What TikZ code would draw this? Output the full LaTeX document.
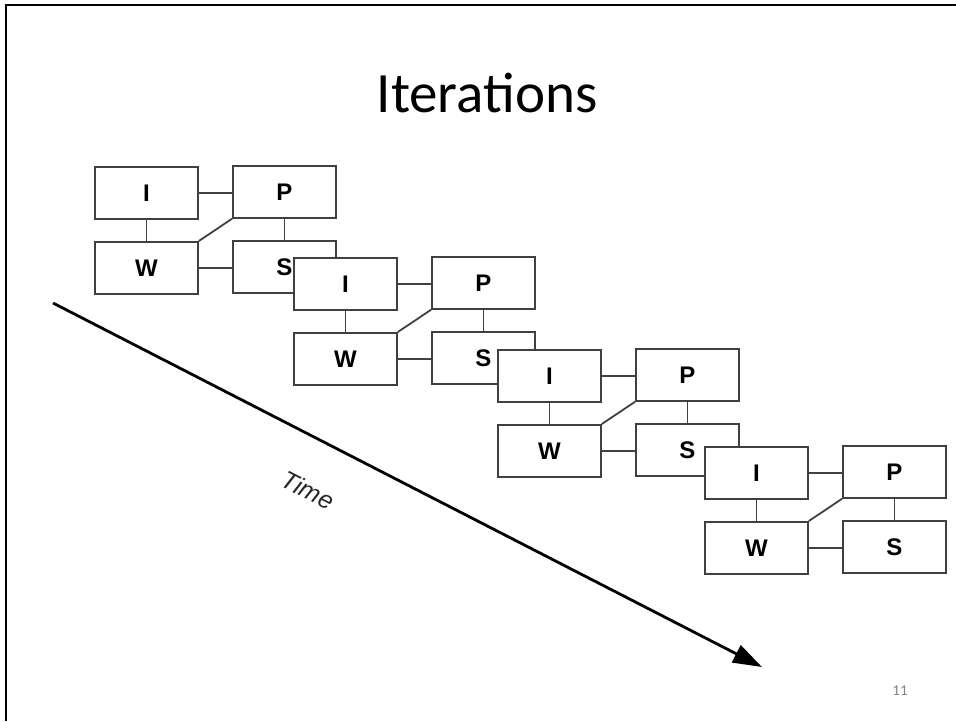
\documentclass[tikz,border=0pt]{standalone}
\usepackage{fontspec}
\setmainfont{Carlito}
\newfontfamily\arialfont{Liberation Sans}
\usetikzlibrary{arrows.meta,calc}
\begin{document}
\begin{tikzpicture}[x=1pt,y=-1pt,
  phasebox/.style={draw=black!75,line width=1.8pt,fill=white,minimum width=103pt,
    minimum height=52pt,inner sep=0pt,anchor=north west,
    font=\arialfont\bfseries\fontsize{24}{24}\selectfont},
  link/.style={draw=black!75,line width=1.8pt},
  frame/.style={line width=2.8pt,black}]
\useasboundingbox (0,0) rectangle (956,721);
% slide frame
\coordinate (fl) at (6,721);
\coordinate (fc) at (6,5);
\coordinate (fr) at (956,5);
\draw[frame] (fl) -- (fc) -- (fr);
% title
\node[font=\fontsize{57}{57}\selectfont,anchor=base] (title) at (487,112) {Iterations};
% time axis
\coordinate (t0) at (53,303);
\coordinate (t1) at (762,667);
\draw[line width=2.8pt,-{Triangle[length=29pt,width=19pt]}] (t0) -- (t1);
\node[font=\arialfont\itshape\fontsize{25}{25}\selectfont,text=black!85,rotate=-27] (time) at (308,490) {Time};
% one iteration: I, P, W, S boxes with their links
\foreach \k/\x/\y in {1/94/166, 2/293/257, 3/497/349, 4/704/446}{
  \node[phasebox] (I\k) at (\x,\y) {I};
  \node[phasebox] (P\k) at (\x+138,\y-1) {P};
  \node[phasebox] (W\k) at (\x,\y+75) {W};
  \node[phasebox] (S\k) at (\x+138,\y+74) {S};
  \draw[link] (I\k.east) -- (I\k.east -| P\k.west);
  \draw[link] (I\k.south) -- (W\k.north);
  \draw[link] (P\k.south) -- (P\k.south |- S\k.north);
  \draw[link] (W\k.east) -- (W\k.east -| S\k.west);
  \draw[link] (P\k.south west) -- (W\k.north east);
}
% page number
\node[font=\fontsize{15}{15}\selectfont,text=black!50] (pagenum) at (900,691) {11};
\end{tikzpicture}
\end{document}
